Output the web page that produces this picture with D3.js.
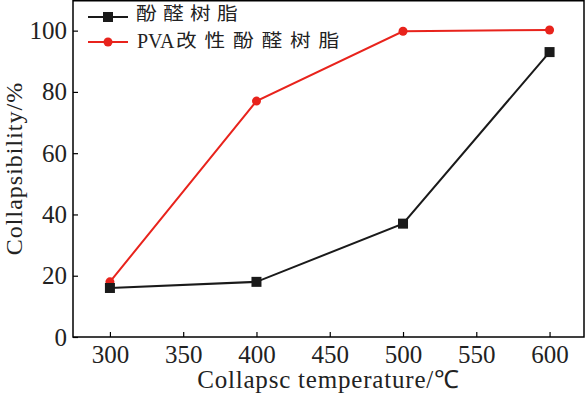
<!DOCTYPE html>
<html><head><meta charset="utf-8">
<script src="https://cdn.jsdelivr.net/npm/d3@7"></script>
<style>body{margin:0;background:#fff}svg{display:block}</style>
</head><body>
<script>
const temps = [300, 400, 500, 600];
const phenolic = [16, 18, 37, 93];
const pvaPhenolic = [18, 77, 99.8, 100.2];
const seriesNames = ["酚醛树脂", ["PVA", "改性酚醛树脂"]];
const xTicks = [300, 350, 400, 450, 500, 550, 600];
const yTicks = [0, 20, 40, 60, 80, 100];

const W = 588, H = 394;
const m = {l: 73, r: 4, t: 0, b: 57};
const svg = d3.select("body").append("svg").attr("width", W).attr("height", H);
const x = d3.scaleLinear().domain([274.8, 623.5]).range([m.l, W - m.r]);
const y = d3.scaleLinear().domain([0, 110]).range([H - m.b, m.t]);
const serif = '"Liberation Serif","Times New Roman",serif';
const cjk = '"Noto Sans CJK SC",sans-serif';

const gx = svg.append("g").attr("transform", `translate(0,${H - m.b})`)
  .call(d3.axisBottom(x).tickValues(xTicks).tickSize(-5).tickPadding(8).tickFormat(d3.format("d")));
const gy = svg.append("g").attr("transform", `translate(${m.l},0)`)
  .call(d3.axisLeft(y).tickValues(yTicks).tickSize(-5).tickPadding(6).tickFormat(d3.format("d")));
[gx, gy].forEach(g => {
  g.attr("font-family", null).attr("font-size", null);
  g.select(".domain").remove();
  g.selectAll("line").attr("stroke", "#000").attr("stroke-width", 1.2);
  g.selectAll("text").style("font-family", serif).style("font-size", "25px").attr("fill", "#222");
});
svg.append("rect").attr("x", m.l).attr("y", m.t + 0.75).attr("width", W - m.r - m.l)
  .attr("height", H - m.b - m.t - 0.75).attr("fill", "none").attr("stroke", "#000").attr("stroke-width", 1.5);

const line = d3.line().x((d, i) => x(temps[i])).y(d => y(d));
svg.append("path").datum(pvaPhenolic).attr("d", line).attr("fill", "none").attr("stroke", "#e8231c").attr("stroke-width", 2);
svg.selectAll(".rc").data(pvaPhenolic).enter().append("circle")
  .attr("cx", (d, i) => x(temps[i])).attr("cy", d => y(d)).attr("r", 4.5).attr("fill", "#e8231c");
svg.append("path").datum(phenolic).attr("d", line).attr("fill", "none").attr("stroke", "#1a1a1a").attr("stroke-width", 2);
svg.selectAll(".bs").data(phenolic).enter().append("rect")
  .attr("x", (d, i) => x(temps[i]) - 5).attr("y", d => y(d) - 5).attr("width", 10).attr("height", 10).attr("fill", "#1a1a1a");

// legend
const leg = [{c: "#1a1a1a", sq: true, yy: 17, base: 21}, {c: "#e8231c", sq: false, yy: 42, base: 48}];
leg.forEach((l, i) => {
  svg.append("line").attr("x1", 88).attr("x2", 128).attr("y1", l.yy).attr("y2", l.yy).attr("stroke", l.c).attr("stroke-width", 2);
  if (l.sq) svg.append("rect").attr("x", 103).attr("y", l.yy - 5).attr("width", 10).attr("height", 10).attr("fill", l.c);
  else svg.append("circle").attr("cx", 108).attr("cy", l.yy).attr("r", 4.5).attr("fill", l.c);
  let cx0 = 136, ls = 5.5;
  if (i === 1) {
    svg.append("text").attr("x", 137).attr("y", l.base).style("font-family", serif).style("font-size", "20px")
      .attr("fill", "#222").text(seriesNames[1][0]);
    cx0 = 176; ls = 6.8;
  }
  svg.append("text").attr("transform", `translate(${cx0},${l.base - 1}) scale(1.15,1)`)
    .style("font-family", cjk).style("font-size", "18px").attr("letter-spacing", ls).attr("fill", "#222")
    .text(i === 0 ? seriesNames[0] : seriesNames[1][1]);
});

svg.append("text").attr("x", (m.l + W - m.r) / 2).attr("y", 388).attr("text-anchor", "middle")
  .style("font-family", serif).style("font-size", "25px").attr("letter-spacing", 0.8).attr("fill", "#222").text("Collapsc temperature/℃");
svg.append("text").attr("transform", `translate(22,${(H - m.b) / 2}) rotate(-90)`).attr("text-anchor", "middle")
  .style("font-family", serif).style("font-size", "24px").attr("letter-spacing", 1).attr("fill", "#222").text("Collapsibility/%");
</script>
</body></html>
